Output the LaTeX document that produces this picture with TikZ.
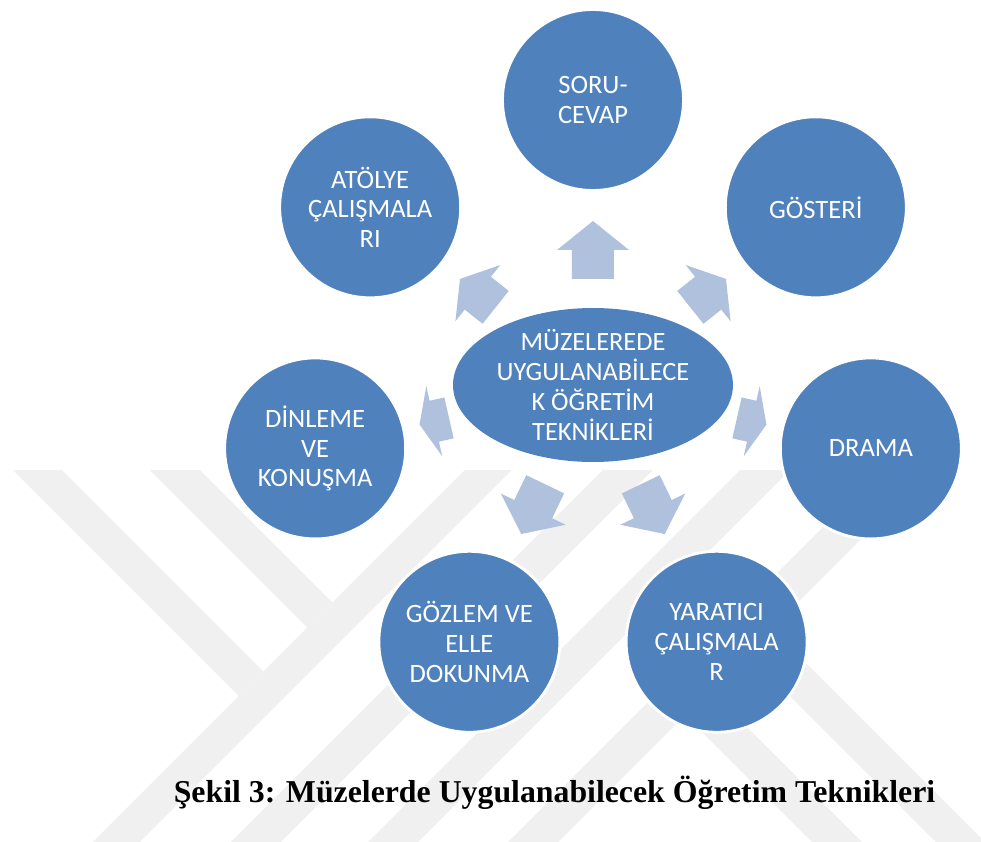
\documentclass[tikz,border=0pt]{standalone}
\usepackage{fontspec}
\setmainfont{Carlito}
\newfontfamily\captionfont{Liberation Serif}
\usetikzlibrary{shapes.geometric}
\definecolor{tekblue}{RGB}{79,129,189}
\definecolor{arrowblue}{RGB}{176,193,222}
\definecolor{wmgray}{RGB}{240,240,240}

\begin{document}
\begin{tikzpicture}[
				x=0.02cm, y=0.02cm,
				roundnode/.style={circle, draw=white, line width=1.6pt, fill=tekblue, text=white, minimum size=3.62cm, inner sep=0pt, align=center, font=\fontsize{15.1}{17}\selectfont},
				hubnode/.style={ellipse, fill=tekblue, minimum width=5.6cm, minimum height=3.08cm, inner sep=0pt},
				hubtext/.style={text=white, align=center, font=\fontsize{15}{17}\selectfont},
				arrowfill/.style={fill=arrowblue, draw=none},
				band/.style={fill=wmgray, draw=none},
				]
				\useasboundingbox (-593,-457) rectangle (388,385);
				
				%Watermark
				\begin{scope}[shift={(-593,385)}, yscale=-1]
				\clip (0,470) rectangle (981,842);
				\fill[band] (-57,400) -- (-8,400) -- (263.5,671.5) -- (239,696) -- cycle;
				\fill[band] (80,400) -- (130,400) -- (332.5,602.5) -- (307.5,627.5) -- cycle;
				\fill[band] (535,400) -- (582,400) -- (82,900) -- (35,900) -- cycle;
				\fill[band] (673,400) -- (723,400) -- (223,900) -- (173,900) -- cycle;
				\fill[band] (810,400) -- (860,400) -- (360,900) -- (310,900) -- cycle;
				\fill[band] (950,400) -- (1000,400) -- (500,900) -- (450,900) -- cycle;
				\fill[band] (685,715) -- (710,690) -- (920,900) -- (870,900) -- cycle;
				\fill[band] (747,653) -- (771.5,628.5) -- (1043,900) -- (994,900) -- cycle;
				\end{scope}
				
				%Nodes
				\node[hubnode, label={[hubtext]center:{MÜZELEREDE\\UYGULANABİLECE\\K ÖĞRETİM\\TEKNİKLERİ}}] (hub) at (0,0) {};
				\node[roundnode] (soru)     at (90:285)      {SORU-\\CEVAP};
				\node[roundnode] (gosteri)  at (38.57:285)   {GÖSTERİ};
				\node[roundnode] (drama)    at (-12.86:285)  {DRAMA};
				\node[roundnode] (yaratici) at (-64.29:285)  {YARATICI\\ÇALIŞMALA\\R};
				\node[roundnode] (gozlem)   at (-115.71:285) {GÖZLEM VE\\ELLE\\DOKUNMA};
				\node[roundnode] (dinleme)  at (-167.14:285) {DİNLEME\\VE\\KONUŞMA};
				\node[roundnode] (atolye)   at (141.43:285)  {ATÖLYE\\ÇALIŞMALA\\RI};
				
				%Arrows (angle / hub edge / length)
				\foreach \ang/\rin/\len in {90/77/58, 38.57/101.7/45.6, -12.86/132.6/30.2, -64.29/82.6/55.2, -115.71/82.6/55.2, -167.14/132.6/30.2, 141.43/101.7/45.6}
				\fill[arrowfill, shift={(hub.center)}, rotate=\ang]
					({\rin+0.5*\len},-21) -- ({\rin+\len},-21) -- ({\rin+\len},-36) -- ({\rin+1.5*\len},0)
					-- ({\rin+\len},36) -- ({\rin+\len},21) -- ({\rin+0.5*\len},21) -- cycle;
				
				%Caption
				\node[anchor=base, font=\captionfont\bfseries\fontsize{18.1}{21}\selectfont] (caption) at (-38.5,-417) {Şekil 3: Müzelerde Uygulanabilecek Öğretim Teknikleri};
			\end{tikzpicture}
\end{document}
